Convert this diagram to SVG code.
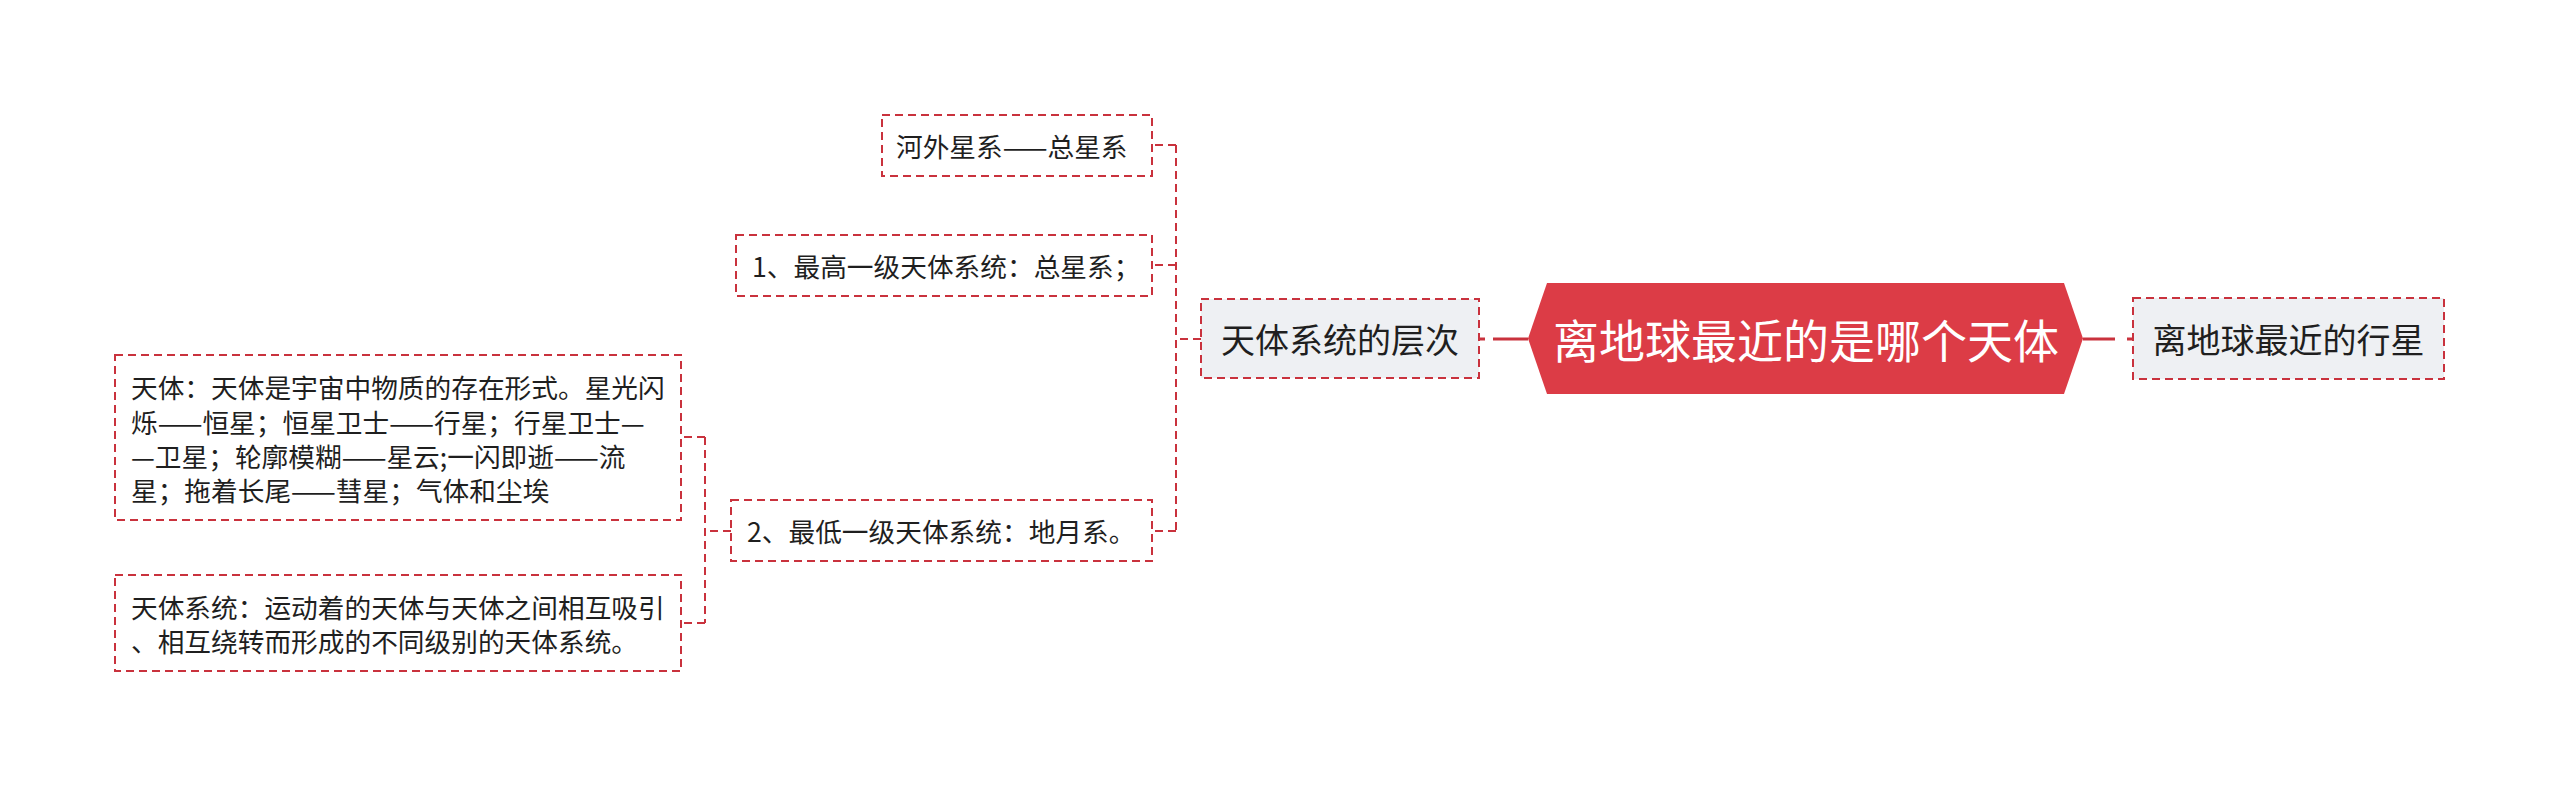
<svg xmlns="http://www.w3.org/2000/svg" width="2560" height="789" viewBox="0 0 2560 789">
<style>
text{font-family:"Noto Sans CJK SC","Noto Sans",sans-serif;fill:#1f1f1f;dominant-baseline:central}
.leaf{fill:#ffffff;stroke:#c9323d;stroke-width:2;stroke-dasharray:8 5}
.sub{fill:#eef0f3;stroke:#c9323d;stroke-width:2;stroke-dasharray:8 5}
.conn{fill:none;stroke:#c9323d;stroke-width:2;stroke-dasharray:8 5}
.main{fill:none;stroke:#c9323d;stroke-width:3}
.t1{font-size:26.7px}
.t2{font-size:34px}
.t0{font-size:46px;fill:#ffffff}
</style>
<rect width="2560" height="789" fill="#ffffff"/>
<g id="connectors">
<path class="main" d="M1528 339 H1479" stroke-dasharray="35 8 6"/>
<path class="main" d="M2083 339 H2133" stroke-dasharray="32 12 6"/>
<path class="conn" d="M1201 339 H1176"/>
<path class="conn" d="M1176 145 V531"/>
<path class="conn" d="M1176 145 H1152"/>
<path class="conn" d="M1176 265 H1152"/>
<path class="conn" d="M1176 531 H1152"/>
<path class="conn" d="M731 531 H705"/>
<path class="conn" d="M705 437 V623"/>
<path class="conn" d="M705 437 H681"/>
<path class="conn" d="M705 623 H681"/>
</g>
<g id="root">
<polygon points="1528,338.5 1547,283 2064,283 2083,338.5 2064,394 1547,394" fill="#dc3c46"/>
<text class="t0" x="1806" y="338" text-anchor="middle">离地球最近的是哪个天体</text>
</g>
<g id="n-cengci">
<rect class="sub" x="1201" y="299" width="278" height="79"/>
<text class="t2" x="1340" y="338" text-anchor="middle">天体系统的层次</text>
</g>
<g id="n-xingxing">
<rect class="sub" x="2133" y="298" width="311" height="81"/>
<text class="t2" x="2288.5" y="338" text-anchor="middle">离地球最近的行星</text>
</g>
<g id="n-hewai">
<rect class="leaf" x="882" y="115" width="270" height="61"/>
<text class="t1" x="896" y="145">河外星系——总星系</text>
</g>
<g id="n-zuigao">
<rect class="leaf" x="736" y="235" width="416" height="61"/>
<text class="t1" x="752" y="265">1、最高一级天体系统：总星系；</text>
</g>
<g id="n-zuidi">
<rect class="leaf" x="731" y="500" width="421" height="61"/>
<text class="t1" x="747" y="530">2、最低一级天体系统：地月系。</text>
</g>
<g id="n-tianti">
<rect class="leaf" x="115" y="355" width="566" height="165"/>
<text class="t1" x="131" y="386">天体：天体是宇宙中物质的存在形式。星光闪</text>
<text class="t1" x="131" y="421">烁——恒星；恒星卫士——行星；行星卫士—</text>
<text class="t1" x="131" y="455">—卫星；轮廓模糊——星云;一闪即逝——流</text>
<text class="t1" x="131" y="489">星；拖着长尾——彗星；气体和尘埃</text>
</g>
<g id="n-xitong">
<rect class="leaf" x="115" y="575" width="566" height="96"/>
<text class="t1" x="131" y="606">天体系统：运动着的天体与天体之间相互吸引</text>
<text class="t1" x="131" y="640">、相互绕转而形成的不同级别的天体系统。</text>
</g>
</svg>
